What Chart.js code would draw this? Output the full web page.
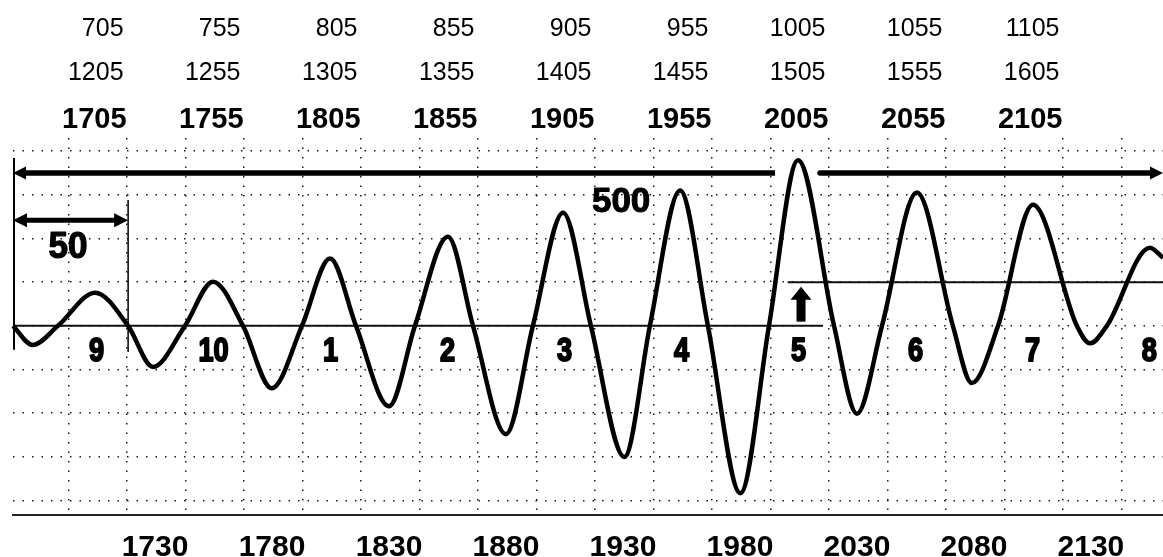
<!DOCTYPE html>
<html>
<head>
<meta charset="utf-8">
<script src="https://cdn.jsdelivr.net/npm/chart.js@4.4.1/dist/chart.umd.min.js"></script>
<style>
  html, body { margin: 0; padding: 0; background: #fff; }
  #wrap { width: 1163px; height: 557px; }
</style>
</head>
<body>
<div id="wrap"><canvas id="wave" width="1163" height="557"></canvas></div>
<script>
// ---- wave (year, value): extremes and zero crossings ----
const waveYears = [1669.3, 1677.7, 1688.5, 1704.4, 1718.5, 1729.1, 1742.8, 1754.8, 1767.6, 1779.9,
  1792.8, 1804.8, 1815.9, 1830.0, 1841.1, 1855.2, 1865.9, 1880.0, 1891.5, 1904.4,
  1916.3, 1930.6, 1941.5, 1954.4, 1966.3, 1980.2, 1992.4, 2004.8, 2020.2, 2030.0,
  2040.7, 2055.6, 2071.0, 2079.1, 2090.3, 2105.2, 2124.0, 2129.6, 2136.8, 2155.2, 2160.8];
const waveValues = [0, -44, 0, 76, 0, -94, 0, 101, 0, -143,
  0, 154, 0, -184, 0, 204, 0, -248, 0, 259,
  0, -300, 0, 310, 0, -383, 0, 379, 0, -201,
  0, 305, 0, -131, 0, 277, 0, -40, 0, 179, 156];

// ---- labels ----
const peakYears = [1705, 1755, 1805, 1855, 1905, 1955, 2005, 2055, 2105];
const topRow1 = ["705", "755", "805", "855", "905", "955", "1005", "1055", "1105"];
const topRow2 = ["1205", "1255", "1305", "1355", "1405", "1455", "1505", "1555", "1605"];
const topRow3 = ["1705", "1755", "1805", "1855", "1905", "1955", "2005", "2055", "2105"];
const bottomYears = [1730, 1780, 1830, 1880, 1930, 1980, 2030, 2080, 2130];
const cycleYears = [1705, 1755, 1805, 1855, 1905, 1955, 2005, 2055, 2105, 2155];
const cycleNames = ["9", "10", "1", "2", "3", "4", "5", "6", "7", "8"];

// ---- grid ----
const gridYears = [1693, 1718, 1743, 1768, 1793, 1818, 1843, 1868, 1893, 1918,
  1943, 1968, 1993, 2018, 2043, 2068, 2093, 2118, 2143];
const gridValues = [-400, -300, -200, -100, 0, 100, 200, 300, 400];

const X_MIN = 1669.3;
const X_MAX = 2160.8;

const FONT = '"Liberation Sans", Arial, sans-serif';

function arrowHead(ctx, x, y, dir, len, half) {
  // dir: +1 points right, -1 points left
  ctx.beginPath();
  ctx.moveTo(x, y);
  ctx.lineTo(x - dir * len, y - half);
  ctx.lineTo(x - dir * len, y + half);
  ctx.closePath();
  ctx.fill();
}

function hLine(ctx, x1, x2, y, w) {
  ctx.lineWidth = w;
  ctx.beginPath();
  ctx.moveTo(x1, y);
  ctx.lineTo(x2, y);
  ctx.stroke();
}

function vLine(ctx, x, y1, y2, w) {
  ctx.lineWidth = w;
  ctx.beginPath();
  ctx.moveTo(x, y1);
  ctx.lineTo(x, y2);
  ctx.stroke();
}

// heavy text: fill plus a thin stroke, optionally squeezed horizontally
function heavyText(ctx, text, cx, by, squeeze, weight) {
  ctx.save();
  ctx.translate(cx, by);
  ctx.scale(squeeze, 1);
  ctx.lineWidth = weight;
  ctx.lineJoin = "round";
  ctx.fillText(text, 0, 0);
  ctx.strokeText(text, 0, 0);
  ctx.restore();
}

const overlay = {
  id: "overlay",
  beforeDatasetsDraw(chart) {
    const { ctx, scales: { x, y } } = chart;
    ctx.save();
    ctx.strokeStyle = "#111";
    // zero line up to cycle 5, raised line after it
    hLine(ctx, x.getPixelForValue(X_MIN), x.getPixelForValue(2015.5), y.getPixelForValue(0), 2);
    hLine(ctx, x.getPixelForValue(2000.4), x.getPixelForValue(X_MAX), y.getPixelForValue(100), 2);
    ctx.restore();
  },
  afterDatasetsDraw(chart) {
    const { ctx, scales: { x, y } } = chart;
    ctx.save();
    ctx.strokeStyle = "#000";
    ctx.fillStyle = "#000";
    ctx.lineCap = "butt";

    // 500-year arrow, broken by the 2005 peak
    const yBig = y.getPixelForValue(350);
    const xl = x.getPixelForValue(X_MIN);
    hLine(ctx, xl + 8, x.getPixelForValue(1995), yBig, 5.5);
    arrowHead(ctx, xl, yBig, -1, 13, 6.5);
    const xr = x.getPixelForValue(X_MAX);
    ctx.lineCap = "round";
    hLine(ctx, x.getPixelForValue(2014.2), xr - 8, yBig, 5.5);
    ctx.lineCap = "butt";
    arrowHead(ctx, xr, yBig, 1, 13, 6.5);

    // 50-year arrow with its end bars
    const y50 = y.getPixelForValue(242);
    const x50r = x.getPixelForValue(1718.5);
    hLine(ctx, xl + 10, x50r - 10, y50, 5);
    arrowHead(ctx, xl, y50, -1, 14, 7);
    arrowHead(ctx, x50r, y50, 1, 14, 7);
    vLine(ctx, xl + 1, y.getPixelForValue(384), y.getPixelForValue(-55), 2);
    vLine(ctx, x50r, y.getPixelForValue(288), y.getPixelForValue(-60), 1.5);

    // small up arrow at cycle 5
    const xa = x.getPixelForValue(2006.1);
    const ya0 = y.getPixelForValue(9.6);
    const ya1 = y.getPixelForValue(89.7);
    ctx.fillRect(xa - 4.5, ya1 + 12, 9, ya0 - ya1 - 12);
    ctx.beginPath();
    ctx.moveTo(xa, ya1);
    ctx.lineTo(xa - 10.5, ya1 + 13);
    ctx.lineTo(xa + 10.5, ya1 + 13);
    ctx.closePath();
    ctx.fill();

    // texts inside the plot
    ctx.textAlign = "center";
    ctx.textBaseline = "alphabetic";
    ctx.font = "bold 37px " + FONT;
    heavyText(ctx, "50", x.getPixelForValue(1692.8), y.getPixelForValue(155), 0.95, 1.2);
    ctx.font = "bold 35px " + FONT;
    heavyText(ctx, "500", x.getPixelForValue(1929.2), y.getPixelForValue(261), 1, 1);

    ctx.font = "bold 34px " + FONT;
    cycleNames.forEach((name, i) => {
      heavyText(ctx, name, x.getPixelForValue(cycleYears[i]), y.getPixelForValue(-81.5), 0.8, 2);
    });
    ctx.restore();
  },
  afterDraw(chart) {
    const { ctx, chartArea, scales: { x } } = chart;
    ctx.save();
    ctx.fillStyle = "#000";
    ctx.textBaseline = "alphabetic";

    // three rows of years above the plot
    ctx.textAlign = "right";
    peakYears.forEach((yr, i) => {
      const px = x.getPixelForValue(yr);
      ctx.font = "25px " + FONT;
      ctx.fillText(topRow1[i], px + 27, chartArea.top - 102);
      ctx.fillText(topRow2[i], px + 27, chartArea.top - 58);
      ctx.font = "bold 29px " + FONT;
      ctx.fillText(topRow3[i], px + 30, chartArea.top - 10);
    });

    // bottom axis labels
    ctx.textAlign = "center";
    ctx.font = "bold 30px " + FONT;
    bottomYears.forEach(yr => {
      ctx.fillText(String(yr), x.getPixelForValue(yr), chartArea.bottom + 41);
    });
    ctx.restore();
  }
};

new Chart(document.getElementById("wave"), {
  type: "line",
  data: {
    datasets: [
      {
        data: waveYears.map((yr, i) => ({ x: yr, y: waveValues[i] })),
        borderColor: "#000",
        borderWidth: 4.5,
        pointRadius: 0,
        fill: false,
        cubicInterpolationMode: "monotone",
        clip: false
      }
    ]
  },
  options: {
    responsive: false,
    animation: false,
    devicePixelRatio: 1,
    layout: { padding: { left: 13, right: 0, top: 138, bottom: 42 } },
    plugins: {
      legend: { display: false },
      tooltip: { enabled: false }
    },
    scales: {
      x: {
        type: "linear",
        min: X_MIN,
        max: X_MAX,
        afterBuildTicks: s => { s.ticks = gridYears.map(v => ({ value: v })); },
        ticks: { display: false },
        grid: { color: "#1a1a1a", lineWidth: 1.5, drawTicks: false },
        border: { display: true, color: "#222", width: 2, dash: [1.5, 8] }
      },
      y: {
        type: "linear",
        min: -433,
        max: 430,
        afterBuildTicks: s => { s.ticks = gridValues.map(v => ({ value: v })); },
        ticks: { display: false },
        grid: { color: "#1a1a1a", lineWidth: 1.5, drawTicks: false },
        border: { display: false, dash: [1.5, 8] }
      }
    }
  },
  plugins: [overlay]
});
</script>
</body>
</html>
